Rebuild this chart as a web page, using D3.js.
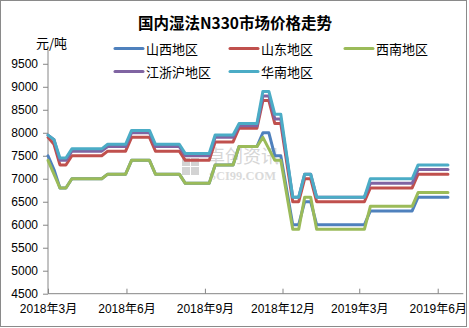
<!DOCTYPE html>
<html><head><meta charset="utf-8">
<script src="https://cdn.jsdelivr.net/npm/d3@7"></script>
<style>html,body{margin:0;padding:0;background:#fff;overflow:hidden}</style>
</head><body>
<svg id="chart" width="469" height="328"></svg>
<script>
const title = "国内湿法N330市场价格走势";
const unitLabel = "元/吨";
const seriesNames = ["山西地区", "山东地区", "西南地区", "江浙沪地区", "华南地区"];
const seriesColors = ["#4F81BD", "#C0504D", "#9BBB59", "#8064A2", "#4BACC6"];
const firstWeek = "2018-03-01";
const yTicks = [4500, 5000, 5500, 6000, 6500, 7000, 7500, 8000, 8500, 9000, 9500];
const xTickDates = ["2018-03-01", "2018-06-01", "2018-09-01", "2018-12-01", "2019-03-01", "2019-06-01"];
const xTickLabels = ["2018年3月", "2018年6月", "2018年9月", "2018年12月", "2019年3月", "2019年6月"];

const shanxi = [7500,7200,6800,6800,7000,7000,7000,7000,7000,7000,7100,7100,7100,7100,7400,7400,7400,7400,
  7100,7100,7100,7100,7100,6900,6900,6900,6900,6900,7300,7300,7300,7300,7700,7700,7700,7700,8000,8000,7500,7500,
  6750,6000,6000,6500,6500,6000,6000,6000,6000,6000,6000,6000,6000,6000,6300,6300,6300,6300,6300,6300,6300,6300,
  6600,6600,6600,6600,6600,6600];
const shandong = [7900,7750,7300,7300,7500,7500,7500,7500,7500,7500,7600,7600,7600,7600,7900,7900,7900,7900,
  7600,7600,7600,7600,7600,7400,7400,7400,7400,7400,7800,7800,7800,7800,8100,8100,8100,8100,8700,8700,8200,8200,
  7350,6500,6500,7000,7000,6500,6500,6500,6500,6500,6500,6500,6500,6500,6800,6800,6800,6800,6800,6800,6800,6800,
  7100,7100,7100,7100,7100,7100];
const xinan = [7400,7100,6800,6800,7000,7000,7000,7000,7000,7000,7100,7100,7100,7100,7400,7400,7400,7400,
  7100,7100,7100,7100,7100,6900,6900,6900,6900,6900,7300,7300,7300,7300,7700,7700,7700,7700,7900,7650,7400,7400,
  6650,5900,5900,6600,6600,5900,5900,5900,5900,5900,5900,5900,5900,5900,6400,6400,6400,6400,6400,6400,6400,6400,
  6700,6700,6700,6700,6700,6700];
const jiangzhehu = [7950,7850,7400,7400,7600,7600,7600,7600,7600,7600,7700,7700,7700,7700,8000,8000,8000,8000,
  7700,7700,7700,7700,7700,7500,7500,7500,7500,7500,7900,7900,7900,7900,8150,8150,8150,8150,8800,8800,8300,8300,
  7450,6600,6600,7100,7100,6600,6600,6600,6600,6600,6600,6600,6600,6600,6900,6900,6900,6900,6900,6900,6900,6900,
  7200,7200,7200,7200,7200,7200];
const huanan = [7950,7850,7450,7450,7650,7650,7650,7650,7650,7650,7750,7750,7750,7750,8050,8050,8050,8050,
  7750,7750,7750,7750,7750,7550,7550,7550,7550,7550,7950,7950,7950,7950,8200,8200,8200,8200,8900,8900,8400,8400,
  7500,6600,6600,7100,7100,6600,6600,6600,6600,6600,6600,6600,6600,6600,7000,7000,7000,7000,7000,7000,7000,7000,
  7300,7300,7300,7300,7300,7300];
const seriesValues = [shanxi, shandong, xinan, jiangzhehu, huanan];

const parseDate = d3.timeParse("%Y-%m-%d");
const startDate = parseDate(firstWeek);
const dates = shanxi.map((_, i) => d3.timeDay.offset(startDate, 7 * i));

const svg = d3.select("#chart");
const pLeft = 48, pRight = 463.3, pTop = 50, pBottom = 293.7;
const x = d3.scaleTime().domain([parseDate("2018-03-01"), parseDate("2019-07-01")]).range([pLeft, pRight]);
const y = d3.scaleLinear().domain([4500, 9800]).range([pBottom, pTop]);

svg.append("rect").attr("x", 0.5).attr("y", 0.5).attr("width", 466).attr("height", 326)
  .attr("fill", "#fff").attr("stroke", "#8a8a8a").attr("stroke-width", 1);

// watermark
const wm = svg.append("g").attr("opacity", 0.55);
[[0,0],[9,0],[0,9],[9,9]].forEach(([dx,dy]) => {
  wm.append("rect").attr("x", 182 + dx).attr("y", 158 + dy).attr("width", 8).attr("height", 8).attr("fill", "#b0b0b0");
});
wm.append("rect").attr("x", 182).attr("y", 152).attr("width", 17).attr("height", 4).attr("fill", "#c4c4c4");
wm.append("text").attr("x", 207).attr("y", 163).attr("font-family", "Noto Sans CJK SC").attr("font-size", 18)
  .attr("fill", "#b5b5b5").text("卓创资讯");
wm.append("text").attr("x", 209).attr("y", 180).attr("font-family", "Liberation Serif").attr("font-size", 12.5)
  .attr("font-weight", "bold").attr("fill", "#bdbdbd").text("SCI99.COM");

// axes
const yAxis = d3.axisLeft(y).tickValues(yTicks).tickSize(5).tickFormat(d3.format("d"));
const gy = svg.append("g").attr("transform", `translate(${pLeft},0)`).call(yAxis);
gy.select(".domain").remove();
gy.selectAll(".tick line").attr("stroke", "#868686");
gy.selectAll(".tick text").attr("font-family", "Liberation Sans, Arial").attr("font-size", 12)
  .attr("fill", "#000").attr("x", -10);
svg.append("line").attr("x1", pLeft).attr("x2", pLeft).attr("y1", pTop).attr("y2", pBottom)
  .attr("stroke", "#868686");

const xAxis = d3.axisBottom(x).tickValues(xTickDates.map(parseDate)).tickSize(0)
  .tickFormat((d, i) => xTickLabels[i]);
const gx = svg.append("g").attr("transform", `translate(0,${pBottom})`).call(xAxis);
gx.select(".domain").remove();
gx.selectAll(".tick text").attr("font-family", "Liberation Sans, Noto Sans CJK SC").attr("font-size", 12)
  .attr("fill", "#000").attr("y", 11);
gx.selectAll(".tick").append("line").attr("y1", -5).attr("y2", 0).attr("stroke", "#868686");
svg.append("line").attr("x1", pLeft).attr("x2", pRight).attr("y1", pBottom).attr("y2", pBottom)
  .attr("stroke", "#868686");

// lines
const line = d3.line().x((d, i) => x(dates[i])).y(d => y(d));
seriesValues.forEach((vals, k) => {
  svg.append("path").datum(vals).attr("d", line).attr("fill", "none")
    .attr("stroke", seriesColors[k]).attr("stroke-width", 3)
    .attr("stroke-linejoin", "round").attr("stroke-linecap", "round");
});

// title
svg.append("text").attr("x", 235).attr("y", 22).attr("text-anchor", "middle").attr("dominant-baseline", "central")
  .attr("font-family", "Noto Sans CJK SC").attr("font-weight", "bold").attr("font-size", 15.5).text(title);
svg.append("text").attr("x", 36).attr("y", 42).attr("dominant-baseline", "central")
  .attr("font-family", "Noto Sans CJK SC").attr("font-size", 13).text(unitLabel);

// legend
const legendPos = [[115, 48.5], [230, 48.5], [345, 48.5], [115, 71.5], [230, 71.5]];
seriesNames.forEach((name, k) => {
  const [lx, ly] = legendPos[k];
  svg.append("line").attr("x1", lx).attr("x2", lx + 28).attr("y1", ly).attr("y2", ly)
    .attr("stroke", seriesColors[k]).attr("stroke-width", 3).attr("stroke-linecap", "round");
  svg.append("text").attr("x", lx + 31).attr("y", ly).attr("dominant-baseline", "central")
    .attr("font-family", "Noto Sans CJK SC").attr("font-size", 13).text(name);
});
</script>
</body></html>
